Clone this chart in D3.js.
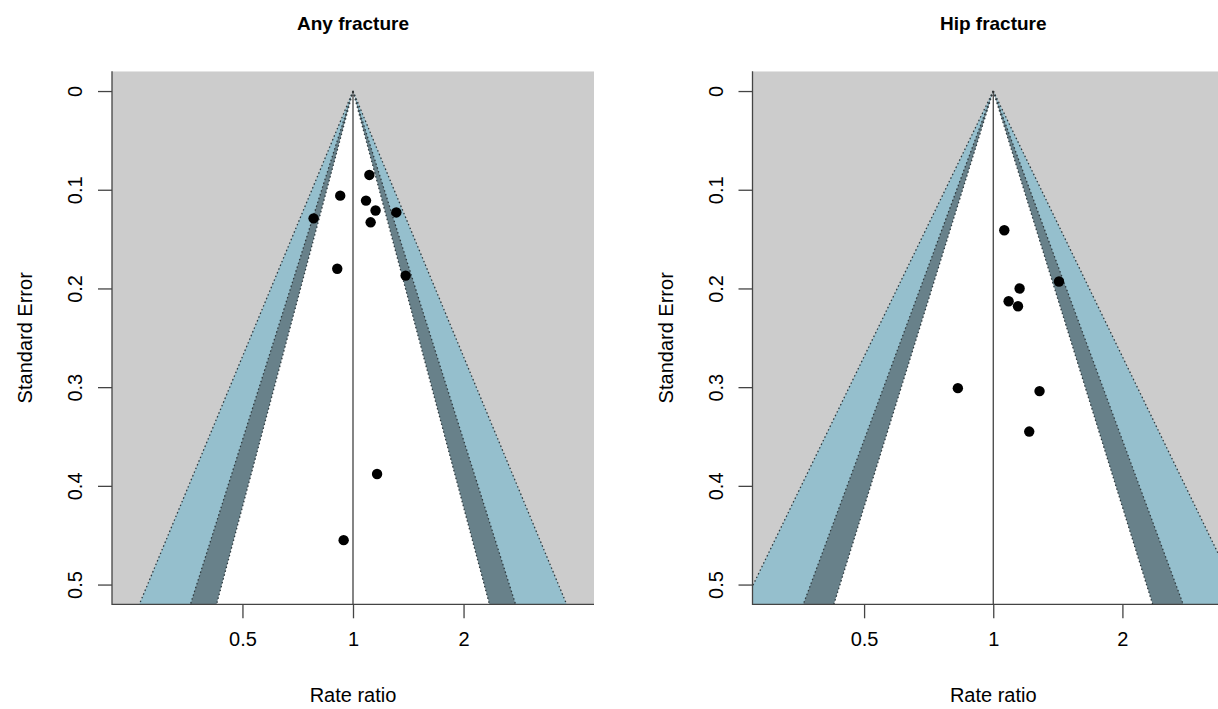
<!DOCTYPE html>
<html>
<head>
<meta charset="utf-8">
<script src="https://cdn.jsdelivr.net/npm/d3@7"></script>
<style>
  body { margin: 0; background: #fff; }
  text { font-family: "Liberation Sans", Arial, sans-serif; fill: #000; }
</style>
</head>
<body>
<div id="chart"></div>
<script>
const width = 1218;
const height = 709;

// rate ratio and standard error of each study
const anyRR = [1.108, 0.923, 0.781, 1.085, 1.152, 1.117, 1.312, 0.906, 1.391, 1.163, 0.943];
const anySE = [0.085, 0.106, 0.129, 0.111, 0.121, 0.133, 0.123, 0.180, 0.187, 0.388, 0.455];

const hipRR = [1.061, 1.152, 1.423, 1.086, 1.142, 0.827, 1.282, 1.213];
const hipSE = [0.141, 0.200, 0.193, 0.213, 0.218, 0.301, 0.304, 0.345];

const xTicks = [0.5, 1, 2];
const yTicks = [0, 0.1, 0.2, 0.3, 0.4, 0.5];

// contour levels (99%, 95%, 90%) and their fills
const contourZ = [2.576, 1.960, 1.645];
const contourFill = ["#95bfcd", "#68818a", "#ffffff"];

const panels = [
  { title: "Any fracture", rr: anyRR, se: anySE, left: 112, right: 594, span: 2.18 },
  { title: "Hip fracture", rr: hipRR, se: hipSE, left: 752.5, right: 1234, span: 1.864 }
];

const plotTop = 71.3, plotBottom = 604.3;

const svg = d3.select("#chart")
  .append("svg")
  .attr("width", width)
  .attr("height", height);

panels.forEach((p, i) => {
  const xScale = d3.scaleLog()
    .domain([Math.pow(2, -p.span), Math.pow(2, p.span)])
    .range([p.left, p.right]);

  const yScale = d3.scaleLinear()
    .domain([-0.02, 0.52])
    .range([plotTop, plotBottom]);

  const seMax = 0.52;

  svg.append("clipPath")
    .attr("id", "clip" + i)
    .append("rect")
    .attr("x", p.left)
    .attr("y", plotTop)
    .attr("width", p.right - p.left)
    .attr("height", plotBottom - plotTop);

  const g = svg.append("g").attr("clip-path", `url(#clip${i})`);

  g.append("rect")
    .attr("x", p.left)
    .attr("y", plotTop)
    .attr("width", p.right - p.left)
    .attr("height", plotBottom - plotTop)
    .attr("fill", "#cccccc");

  const funnel = z => [[1, 0], [Math.exp(-z * seMax), seMax], [Math.exp(z * seMax), seMax]];

  contourZ.forEach((z, k) => {
    g.append("polygon")
      .attr("points", funnel(z).map(d => [xScale(d[0]), yScale(d[1])].join(",")).join(" "))
      .attr("fill", contourFill[k]);
  });

  // dotted contour edges
  contourZ.forEach(z => {
    [-1, 1].forEach(s => {
      g.append("line")
        .attr("x1", xScale(1))
        .attr("y1", yScale(0))
        .attr("x2", xScale(Math.exp(s * z * seMax)))
        .attr("y2", yScale(seMax))
        .attr("stroke", "#2e3a3f")
        .attr("stroke-width", 1.3)
        .attr("stroke-dasharray", "1.5,2.5");
    });
  });

  g.append("line")
    .attr("x1", xScale(1))
    .attr("x2", xScale(1))
    .attr("y1", yScale(0))
    .attr("y2", plotBottom)
    .attr("stroke", "#333")
    .attr("stroke-width", 1.2);

  g.selectAll("circle")
    .data(p.rr.map((r, j) => ({ rr: r, se: p.se[j] })))
    .enter()
    .append("circle")
    .attr("cx", d => xScale(d.rr))
    .attr("cy", d => yScale(d.se))
    .attr("r", 5.2)
    .attr("fill", "#000");

  // L-shaped box
  svg.append("path")
    .attr("d", `M${p.left},${plotTop}V${plotBottom}H${p.right}`)
    .attr("fill", "none")
    .attr("stroke", "#444")
    .attr("stroke-width", 1.3);

  const xAxis = svg.append("g")
    .attr("transform", `translate(0,${plotBottom})`)
    .call(d3.axisBottom(xScale).tickValues(xTicks).tickFormat(d3.format("")).tickSize(14).tickPadding(14));
  xAxis.select(".domain").remove();

  const yAxis = svg.append("g")
    .attr("transform", `translate(${p.left},0)`)
    .call(d3.axisLeft(yScale).tickValues(yTicks).tickFormat(d3.format("")).tickSize(14));
  yAxis.select(".domain").remove();

  svg.selectAll(".tick line").attr("stroke", "#444").attr("stroke-width", 1.3);
  xAxis.selectAll("text").attr("font-size", 20).attr("fill", "#000");
  yAxis.selectAll("text")
    .attr("font-size", 20)
    .attr("fill", "#000")
    .attr("text-anchor", "middle")
    .attr("x", null)
    .attr("dy", "0.35em")
    .attr("transform", "translate(-37,0) rotate(-90)");
  xAxis.selectAll(".tick text").attr("dy", "0.71em");

  svg.append("text")
    .attr("x", (p.left + p.right) / 2)
    .attr("y", 30)
    .attr("text-anchor", "middle")
    .attr("font-size", 19)
    .attr("font-weight", "bold")
    .text(p.title);

  svg.append("text")
    .attr("x", (p.left + p.right) / 2)
    .attr("y", 702)
    .attr("text-anchor", "middle")
    .attr("font-size", 20)
    .text("Rate ratio");

  svg.append("text")
    .attr("transform", "rotate(-90)")
    .attr("x", -(plotTop + plotBottom) / 2)
    .attr("y", p.left - 80)
    .attr("text-anchor", "middle")
    .attr("font-size", 20)
    .text("Standard Error");
});
</script>
</body>
</html>
